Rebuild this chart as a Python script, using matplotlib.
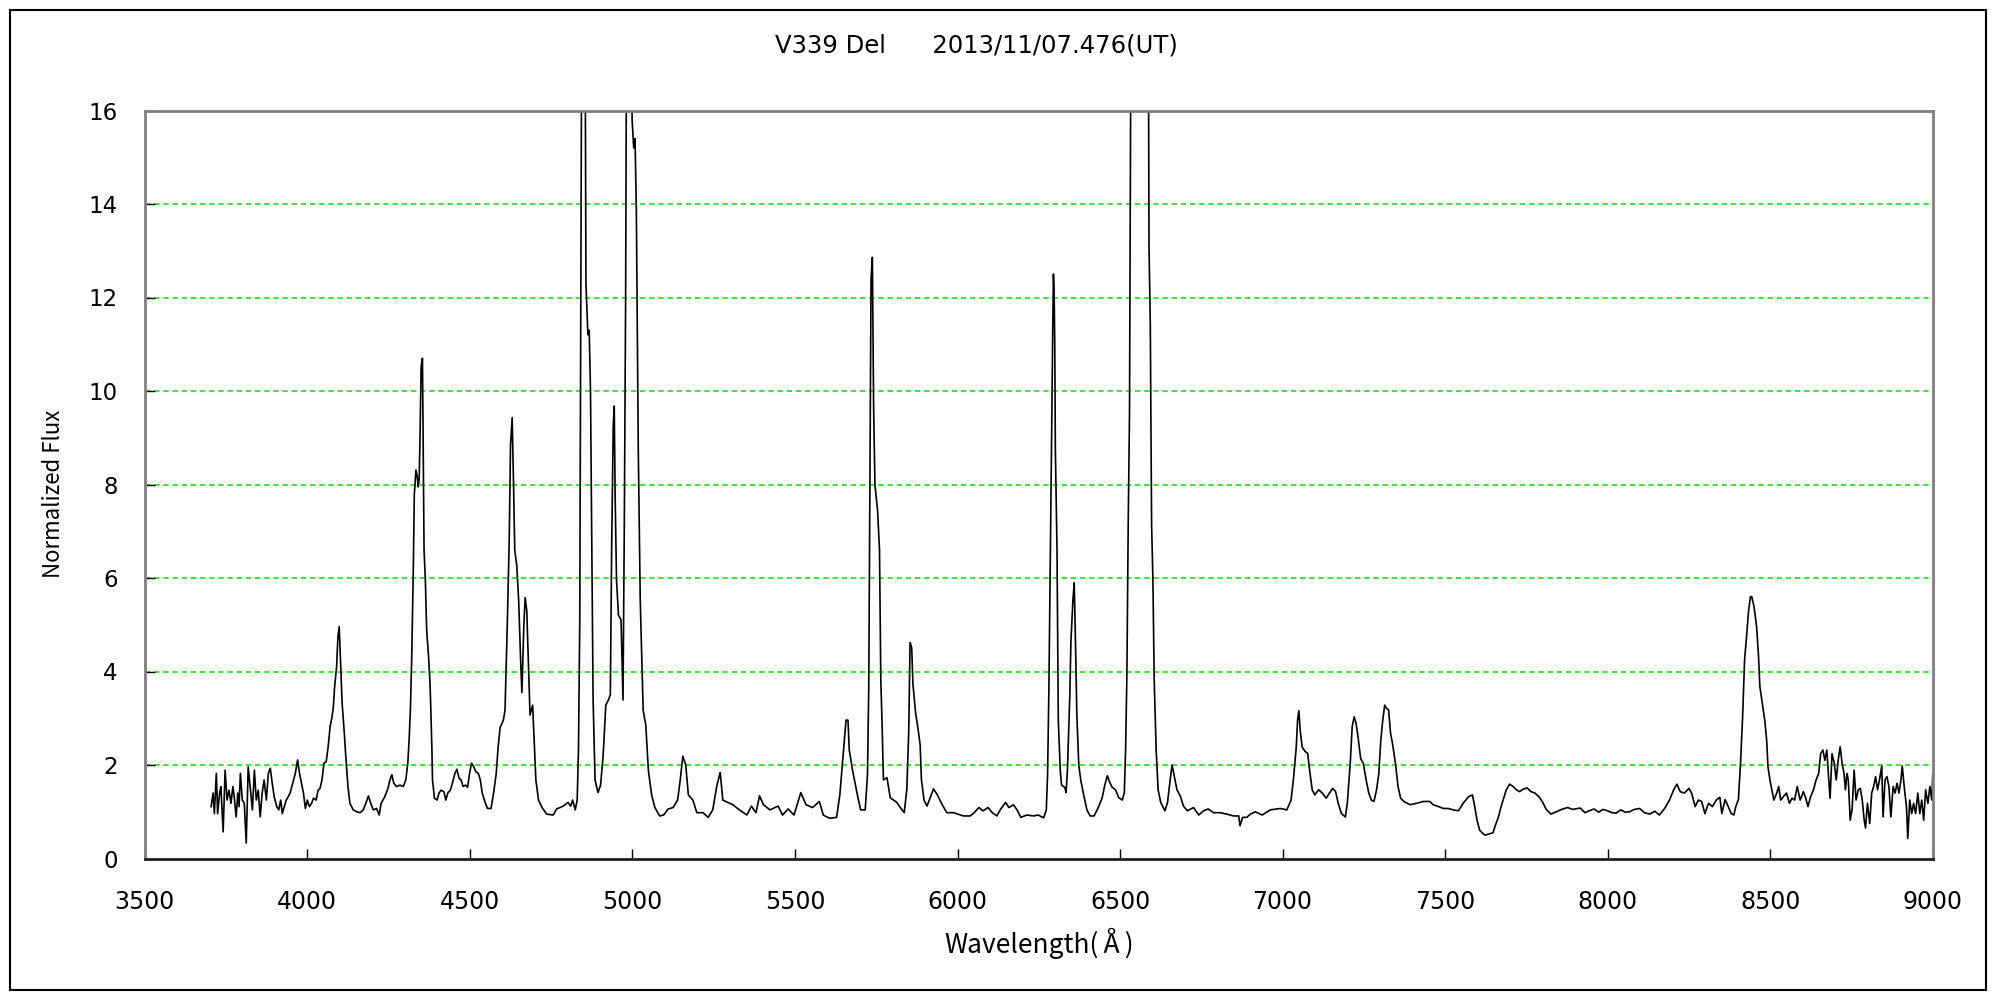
import numpy as np
import matplotlib
matplotlib.use("Agg")
import matplotlib.pyplot as plt
import matplotlib.patches as patches

plt.rcParams['font.family'] = ['DejaVu Sans']
cjk = ['Noto Sans CJK JP', 'DejaVu Sans']

title = 'V339 Del      2013/11/07.476(UT)'
xlabel = 'Wavelength(\u212b)'
ylabel = 'Normalized Flux'
xticks = [3500, 4000, 4500, 5000, 5500, 6000, 6500, 7000, 7500, 8000, 8500, 9000]
yticks = [0, 2, 4, 6, 8, 10, 12, 14, 16]

# 3700 - 4600 A (noisy blue end, H-delta, H-gamma)
wl_blue = [3704, 3710, 3714, 3720, 3724, 3730, 3734, 3741, 3747, 3753, 3759, 3765,
           3771, 3775, 3781, 3786, 3790, 3794, 3800, 3806, 3812, 3818, 3824, 3831,
           3837, 3843, 3849, 3855, 3861, 3867, 3874, 3880, 3886, 3892, 3898, 3906,
           3912, 3918, 3923, 3929, 3935, 3941, 3947, 3955, 3963, 3970, 3976, 3982,
           3988, 3994, 4000, 4006, 4013, 4019, 4027, 4033, 4039, 4045, 4051, 4058,
           4064, 4070, 4076, 4080, 4084, 4090, 4094, 4098, 4103, 4107, 4113, 4119,
           4125, 4131, 4141, 4152, 4162, 4172, 4182, 4188, 4195, 4203, 4213, 4221,
           4227, 4238, 4248, 4254, 4260, 4266, 4274, 4285, 4295, 4303, 4309, 4313,
           4317, 4321, 4324, 4326, 4329, 4334, 4338, 4341, 4344, 4347, 4350, 4354,
           4356, 4359, 4363, 4367, 4373, 4377, 4379, 4383, 4385, 4391, 4399, 4405,
           4411, 4420, 4426, 4432, 4440, 4446, 4454, 4460, 4467, 4473, 4479, 4487,
           4493, 4499, 4505, 4512, 4518, 4526, 4532, 4538, 4546, 4554, 4565, 4573,
           4581, 4587, 4593]
fx_blue = [1.11, 1.40, 0.96, 1.82, 0.96, 1.40, 1.54, 0.57, 1.89, 1.25, 1.46, 1.18,
           1.54, 1.32, 0.89, 1.40, 1.11, 1.82, 1.25, 1.18, 0.33, 1.96, 1.54, 1.04,
           1.89, 1.25, 1.46, 0.89, 1.40, 1.68, 1.25, 1.82, 1.93, 1.61, 1.32, 1.11,
           1.04, 1.25, 0.96, 1.11, 1.25, 1.32, 1.40, 1.61, 1.82, 2.11, 1.82, 1.61,
           1.40, 1.07, 1.25, 1.11, 1.18, 1.29, 1.25, 1.46, 1.50, 1.68, 2.04, 2.07,
           2.39, 2.82, 3.03, 3.25, 3.68, 4.10, 4.74, 4.96, 4.03, 3.32, 2.75, 2.11,
           1.54, 1.18, 1.04, 1.00, 0.98, 1.04, 1.22, 1.34, 1.18, 1.04, 1.07, 0.93,
           1.18, 1.32, 1.50, 1.68, 1.79, 1.61, 1.54, 1.57, 1.54, 1.68, 2.04, 2.53,
           3.18, 4.28, 5.46, 6.21, 7.78, 8.31, 8.17, 7.95, 8.10, 9.17, 10.52, 10.70,
           9.17, 6.60, 5.96, 4.89, 4.30, 3.80, 3.39, 2.39, 1.68, 1.29, 1.25, 1.40,
           1.46, 1.43, 1.25, 1.40, 1.46, 1.61, 1.82, 1.91, 1.71, 1.68, 1.54, 1.57,
           1.52, 1.82, 2.04, 1.96, 1.86, 1.82, 1.68, 1.40, 1.22, 1.07, 1.07, 1.40,
           1.82, 2.39, 2.80]

# 4600 - 5720 A (He II / N III, H-beta, [O III], He I)
wl_green = [4603, 4608, 4615, 4621, 4625, 4630, 4634, 4638, 4644, 4650, 4656, 4660,
            4666, 4670, 4675, 4681, 4685, 4693, 4699, 4703, 4711, 4722, 4736, 4756,
            4767, 4787, 4802, 4810, 4816, 4824, 4830, 4834, 4838, 4842, 4846, 4852,
            4855, 4857, 4863, 4867, 4871, 4875, 4879, 4885, 4894, 4902, 4910, 4918,
            4926, 4932, 4936, 4941, 4944, 4947, 4951, 4957, 4965, 4971, 4975, 4979,
            4983, 4990, 4997, 4999, 5004, 5008, 5012, 5018, 5024, 5033, 5041, 5049,
            5059, 5069, 5084, 5096, 5110, 5125, 5139, 5147, 5155, 5164, 5172, 5186,
            5198, 5217, 5233, 5247, 5260, 5270, 5278, 5293, 5309, 5329, 5352, 5366,
            5380, 5391, 5403, 5423, 5448, 5462, 5479, 5497, 5518, 5534, 5554, 5575,
            5587, 5606, 5628, 5638, 5647, 5657, 5663, 5667, 5677, 5692, 5702, 5716]
fx_green = [2.96, 3.17, 4.99, 6.81, 8.85, 9.43, 8.10, 6.60, 6.28, 5.53, 4.25, 3.55,
            4.99, 5.58, 5.30, 3.93, 3.07, 3.28, 2.32, 1.68, 1.25, 1.09, 0.95, 0.93,
            1.06, 1.12, 1.20, 1.12, 1.25, 1.04, 1.25, 2.32, 5.10, 14.1, 22.0, 24.0,
            16.5, 12.3, 11.2, 11.3, 10.0, 6.60, 3.39, 1.68, 1.41, 1.57, 2.21, 3.28,
            3.39, 3.50, 6.60, 9.27, 9.68, 7.67, 5.96, 5.21, 5.10, 3.39, 7.13, 11.9,
            20.0, 26.0, 18.0, 15.8, 15.2, 15.4, 13.9, 8.74, 5.53, 3.17, 2.86, 1.89,
            1.36, 1.09, 0.91, 0.93, 1.06, 1.09, 1.25, 1.68, 2.19, 2.00, 1.36, 1.25,
            0.98, 0.98, 0.88, 1.04, 1.57, 1.84, 1.25, 1.20, 1.15, 1.04, 0.93, 1.12,
            0.98, 1.34, 1.15, 1.04, 1.12, 0.93, 1.06, 0.93, 1.41, 1.15, 1.09, 1.22,
            0.93, 0.86, 0.88, 1.36, 2.11, 2.96, 2.96, 2.32, 1.89, 1.36, 1.04, 1.04]

# 5720 - 6910 A ([N II] 5755, He I, [O I], H-alpha)
wl_red = [5723, 5727, 5731, 5734, 5738, 5742, 5746, 5754, 5760, 5764, 5768, 5772,
          5783, 5793, 5803, 5813, 5824, 5836, 5844, 5850, 5854, 5859, 5863, 5871,
          5879, 5885, 5889, 5897, 5906, 5916, 5926, 5938, 5953, 5967, 5988, 6018,
          6039, 6051, 6066, 6078, 6094, 6107, 6121, 6133, 6148, 6158, 6172, 6183,
          6195, 6213, 6234, 6248, 6265, 6273, 6277, 6281, 6285, 6289, 6293, 6295,
          6297, 6299, 6301, 6306, 6310, 6316, 6320, 6330, 6334, 6338, 6345, 6349,
          6355, 6359, 6363, 6367, 6373, 6379, 6388, 6398, 6408, 6420, 6433, 6445,
          6453, 6461, 6468, 6476, 6486, 6496, 6507, 6513, 6517, 6521, 6525, 6529,
          6533, 6545, 6560, 6575, 6587, 6589, 6593, 6597, 6601, 6605, 6611, 6617,
          6625, 6638, 6646, 6654, 6660, 6666, 6675, 6685, 6695, 6707, 6726, 6742,
          6757, 6771, 6787, 6808, 6828, 6849, 6865, 6869, 6877, 6890, 6901]
fx_red = [1.79, 3.71, 8.74, 12.4, 12.86, 9.60, 7.99, 7.45, 6.60, 3.82, 2.86, 1.68,
          1.73, 1.30, 1.25, 1.20, 1.09, 0.98, 1.47, 2.75, 4.62, 4.51, 3.71, 3.12,
          2.75, 2.43, 1.68, 1.25, 1.12, 1.30, 1.49, 1.36, 1.15, 0.98, 0.98, 0.91,
          0.91, 0.98, 1.09, 1.02, 1.09, 0.98, 0.91, 1.06, 1.20, 1.09, 1.15, 1.04,
          0.88, 0.93, 0.91, 0.93, 0.87, 1.04, 1.79, 3.60, 6.28, 8.74, 11.41, 12.5,
          12.16, 11.09, 8.74, 6.60, 2.96, 1.89, 1.57, 1.52, 1.41, 1.89, 3.39, 4.67,
          5.53, 5.90, 4.57, 3.07, 2.00, 1.68, 1.36, 1.04, 0.91, 0.91, 1.09, 1.30,
          1.57, 1.77, 1.63, 1.52, 1.47, 1.30, 1.25, 1.41, 2.32, 3.93, 7.13, 9.49,
          17.0, 30.0, 36.0, 30.0, 18.0, 13.1, 11.41, 7.13, 5.96, 3.82, 2.32, 1.47,
          1.20, 1.02, 1.20, 1.68, 2.00, 1.79, 1.47, 1.34, 1.12, 1.02, 1.09, 0.93,
          1.02, 1.06, 0.98, 0.98, 0.95, 0.91, 0.91, 0.70, 0.88, 0.88, 0.95]

# 6910 - 7900 A (He I 7065, [Ar III] / O II, telluric A band)
wl_ir = [6916, 6937, 6962, 6993, 7013, 7026, 7034, 7042, 7046, 7050, 7054, 7060,
         7069, 7077, 7083, 7091, 7099, 7111, 7122, 7134, 7144, 7154, 7163, 7171,
         7181, 7193, 7199, 7208, 7214, 7220, 7226, 7232, 7240, 7248, 7257, 7265,
         7273, 7281, 7289, 7296, 7302, 7308, 7314, 7320, 7326, 7332, 7338, 7347,
         7355, 7363, 7373, 7392, 7412, 7433, 7453, 7463, 7480, 7494, 7510, 7525,
         7541, 7555, 7572, 7584, 7592, 7598, 7606, 7615, 7623, 7633, 7647, 7655,
         7664, 7672, 7680, 7688, 7698, 7709, 7719, 7729, 7739, 7752, 7764, 7776,
         7790, 7801, 7811, 7825, 7842, 7858, 7876, 7893]
fx_ir = [1.00, 0.93, 1.04, 1.07, 1.04, 1.25, 1.75, 2.39, 2.96, 3.16, 2.75, 2.39,
         2.29, 2.25, 1.89, 1.47, 1.36, 1.47, 1.40, 1.29, 1.40, 1.50, 1.43, 1.18,
         0.96, 0.89, 1.18, 2.04, 2.82, 3.03, 2.89, 2.60, 2.14, 2.04, 1.68, 1.40,
         1.25, 1.22, 1.47, 1.82, 2.53, 2.96, 3.28, 3.21, 3.18, 2.68, 2.46, 2.04,
         1.54, 1.29, 1.22, 1.15, 1.18, 1.22, 1.22, 1.15, 1.11, 1.07, 1.07, 1.04,
         1.02, 1.18, 1.32, 1.36, 1.07, 0.82, 0.61, 0.54, 0.50, 0.52, 0.55, 0.72,
         0.89, 1.11, 1.29, 1.47, 1.59, 1.54, 1.47, 1.43, 1.48, 1.51, 1.43, 1.40,
         1.31, 1.19, 1.05, 0.95, 1.00, 1.05, 1.09, 1.05]

# 7900 - 9000 A (O I 8446, noisy red end)
wl_nir = [7915, 7930, 7943, 7958, 7972, 7985, 8000, 8013, 8026, 8040, 8054, 8067,
          8082, 8098, 8113, 8129, 8145, 8159, 8175, 8190, 8203, 8213, 8223, 8236,
          8250, 8258, 8269, 8279, 8289, 8299, 8310, 8322, 8334, 8345, 8351, 8361,
          8371, 8380, 8388, 8394, 8402, 8408, 8415, 8421, 8427, 8433, 8439, 8443,
          8450, 8458, 8464, 8468, 8474, 8483, 8489, 8493, 8499, 8505, 8511, 8520,
          8526, 8532, 8540, 8550, 8559, 8567, 8575, 8583, 8592, 8602, 8608, 8616,
          8624, 8633, 8641, 8649, 8655, 8662, 8668, 8674, 8680, 8684, 8690, 8697,
          8703, 8709, 8715, 8721, 8727, 8731, 8736, 8740, 8746, 8752, 8758, 8764,
          8771, 8777, 8783, 8789, 8793, 8799, 8806, 8812, 8818, 8824, 8830, 8836,
          8843, 8847, 8853, 8859, 8865, 8871, 8878, 8884, 8890, 8896, 8902, 8906,
          8913, 8919, 8923, 8929, 8935, 8941, 8947, 8954, 8960, 8966, 8972, 8978,
          8985, 8991, 8997, 9000]
fx_nir = [1.08, 0.98, 1.02, 1.06, 0.99, 1.05, 1.02, 0.98, 0.97, 1.04, 0.99, 1.00,
          1.05, 1.07, 0.98, 0.95, 1.01, 0.93, 1.07, 1.25, 1.47, 1.59, 1.43, 1.40,
          1.50, 1.40, 1.11, 1.25, 1.22, 0.96, 1.18, 1.11, 1.25, 1.31, 0.96, 1.26,
          1.11, 0.96, 0.93, 1.11, 1.26, 1.96, 3.03, 4.25, 4.74, 5.28, 5.60, 5.60,
          5.39, 4.96, 4.32, 3.68, 3.39, 2.96, 2.53, 1.96, 1.68, 1.47, 1.25, 1.40,
          1.54, 1.25, 1.32, 1.40, 1.18, 1.29, 1.25, 1.54, 1.25, 1.43, 1.32, 1.11,
          1.32, 1.47, 1.68, 1.82, 2.24, 2.32, 2.10, 2.32, 1.68, 1.29, 2.24, 2.04,
          1.68, 2.10, 2.39, 2.04, 1.82, 1.47, 1.82, 1.68, 0.82, 1.07, 1.89, 1.25,
          1.47, 1.50, 1.25, 0.82, 0.65, 1.18, 0.75, 1.40, 1.54, 1.75, 1.47, 1.68,
          1.98, 0.89, 1.68, 1.75, 1.54, 0.89, 1.54, 1.40, 1.61, 1.40, 1.68, 1.98,
          1.47, 1.11, 0.43, 1.25, 0.96, 1.18, 0.96, 1.40, 0.96, 1.25, 0.82, 1.47,
          1.18, 1.54, 1.25, 1.82]

wl = np.concatenate([wl_blue, wl_green, wl_red, wl_ir, wl_nir])
fx = np.concatenate([fx_blue, fx_green, fx_red, fx_ir, fx_nir])

fig = plt.figure(figsize=(20, 10), dpi=100)
ax = fig.add_axes([0.0724, 0.1415, 0.894, 0.748])

ax.plot(wl, fx, color='black', lw=1.2)

ax.set_xlim(3500, 9000)
ax.set_ylim(0, 16)
ax.set_xticks(xticks)
ax.set_yticks(yticks)
for y in yticks[1:-1]:
    ax.axhline(y, color='#00e000', lw=1.1, dashes=(3.5, 2.5), zorder=0)

ax.tick_params(axis='x', direction='in', length=7, width=1, labelsize=17, pad=23)
ax.tick_params(axis='y', direction='in', length=7, width=1, labelsize=16.5, pad=19.5)

for side in ['top', 'right', 'left']:
    ax.spines[side].set_color('#808080')
    ax.spines[side].set_linewidth(2)
ax.spines['bottom'].set_color('#202020')
ax.spines['bottom'].set_linewidth(2)

ax.set_xlabel(xlabel, fontsize=19, family=cjk)
ax.set_ylabel(ylabel, fontsize=16, family=cjk)
ax.xaxis.label.set_va('center')
ax.yaxis.label.set_va('center')
ax.xaxis.set_label_coords(0.5, -0.113)
ax.yaxis.set_label_coords(-0.0513, 0.487)

fig.text(0.488, 0.954, title, ha='center', va='center', fontsize=17.5)

border = patches.Rectangle((0.005, 0.01), 0.988, 0.98, transform=fig.transFigure,
                           fill=False, edgecolor='black', lw=1.5)
fig.patches.append(border)

fig.savefig('out.png', dpi=100)
